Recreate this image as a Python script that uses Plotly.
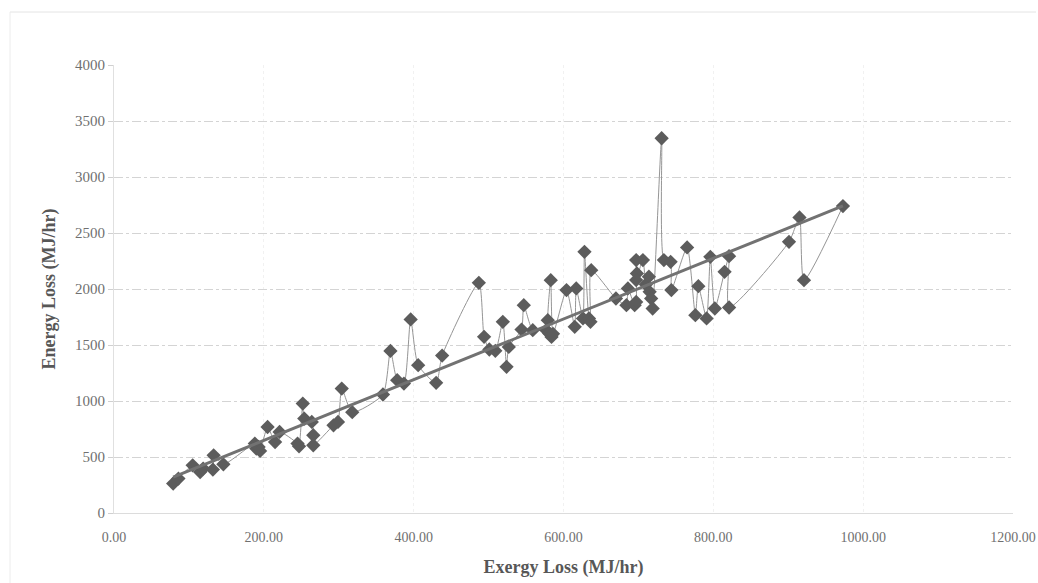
import numpy as np
import plotly.graph_objects as go

# Data (in plotting order)
exergy_loss = [79, 86, 105, 115, 119, 132, 133, 146,
               188, 190, 193, 195, 205, 215, 221, 245, 247,
               252, 254, 264, 266, 266, 293, 299, 304, 318,
               359, 369, 378, 387, 396, 406, 430, 438, 487, 494, 501, 509,
               519, 524, 527, 544, 547, 559, 577, 581, 584, 579, 583, 586,
               604, 615, 617, 626, 628, 634, 636, 637, 670, 684, 686, 695,
               697, 697, 698, 697, 706, 710, 714, 715, 717, 719, 731, 734,
               743, 744, 765, 776, 780, 791, 796, 802, 815, 821, 821,
               901, 915, 921, 973]
energy_loss = [263, 307, 426, 366, 397, 388, 515, 435,
               620, 575, 590, 554, 768, 634, 724, 620, 596,
               977, 843, 813, 694, 605, 783, 813, 1111, 900,
               1058, 1447, 1186, 1156, 1728, 1320, 1162, 1406, 2055, 1573, 1460, 1448,
               1707, 1305, 1483, 1638, 1856, 1632, 1632, 1603, 1572, 1722, 2079, 1600,
               1990, 1662, 2005, 1737, 2332, 1737, 1707, 2168, 1915, 1856, 2005, 1856,
               1885, 2258, 2139, 2080, 2258, 2040, 2110, 1975, 1915, 1826, 3346, 2258,
               2243, 1990, 2371, 1766, 2025, 1737, 2287, 1826, 2153, 2293, 1835,
               2421, 2639, 2079, 2740]

x_ticks = [0, 200, 400, 600, 800, 1000, 1200]
x_tick_text = ["0.00", "200.00", "400.00", "600.00", "800.00", "1000.00", "1200.00"]
y_ticks = [0, 500, 1000, 1500, 2000, 2500, 3000, 3500, 4000]

# Linear trendline coefficients
trend_slope = 2.71
trend_intercept = 106

tx = np.array([min(exergy_loss), max(exergy_loss)])
ty = trend_slope * tx + trend_intercept

serif = "Liberation Serif, Times New Roman, serif"

fig = go.Figure()
fig.add_trace(go.Scatter(
    x=exergy_loss, y=energy_loss, mode="lines+markers",
    line=dict(color="#959595", width=1, shape="spline", smoothing=0.6),
    marker=dict(symbol="diamond", size=11, color="#5c5c5c"),
    showlegend=False, hoverinfo="x+y"))
fig.add_trace(go.Scatter(
    x=tx, y=ty, mode="lines",
    line=dict(color="#727272", width=3),
    showlegend=False, hoverinfo="skip"))

W, H = 1038, 583
L, R, T, B = 114, 25, 65, 70
pw, ph = W - L - R, H - T - B

def px_x(p):
    return (p - L) / pw

def px_y(p):
    return (H - B - p) / ph

fig.update_layout(
    width=W, height=H,
    margin=dict(l=L, r=R, t=T, b=B, autoexpand=False),
    paper_bgcolor="white", plot_bgcolor="white",
    font=dict(family=serif, color="#6e6e6e", size=15),
    shapes=[
        dict(type="line", xref="paper", yref="paper",
             x0=px_x(10), x1=px_x(1036), y0=px_y(12), y1=px_y(12),
             line=dict(color="#e4e4e4", width=1)),
        dict(type="line", xref="paper", yref="paper",
             x0=px_x(10), x1=px_x(10), y0=px_y(12), y1=px_y(583),
             line=dict(color="#ececec", width=1)),
    ],
    xaxis=dict(
        range=[0, 1200], tickvals=x_ticks, ticktext=x_tick_text,
        showgrid=True, gridcolor="#f1f1f1", griddash="dot", gridwidth=1,
        zeroline=False, showline=True, linecolor="#dcdcdc",
        ticks="outside", ticklen=11, tickcolor="rgba(0,0,0,0)",
        tickfont=dict(size=14, color="#707070"),
        title=dict(text="<b>Exergy Loss (MJ/hr)</b>", standoff=16,
                   font=dict(size=18, color="#575757")),
    ),
    yaxis=dict(
        range=[0, 4000], tickvals=y_ticks,
        showgrid=True, gridcolor="#d4d4d4", griddash="dashdot", gridwidth=1,
        zeroline=False, showline=True, linecolor="#e0e0e0",
        ticks="outside", ticklen=5, tickcolor="#d0d0d0",
        tickfont=dict(size=15, color="#707070"),
        title=dict(text="<b>Energy Loss (MJ/hr)</b>", standoff=14,
                   font=dict(size=18, color="#575757")),
    ),
)

fig.write_html("out.html")
